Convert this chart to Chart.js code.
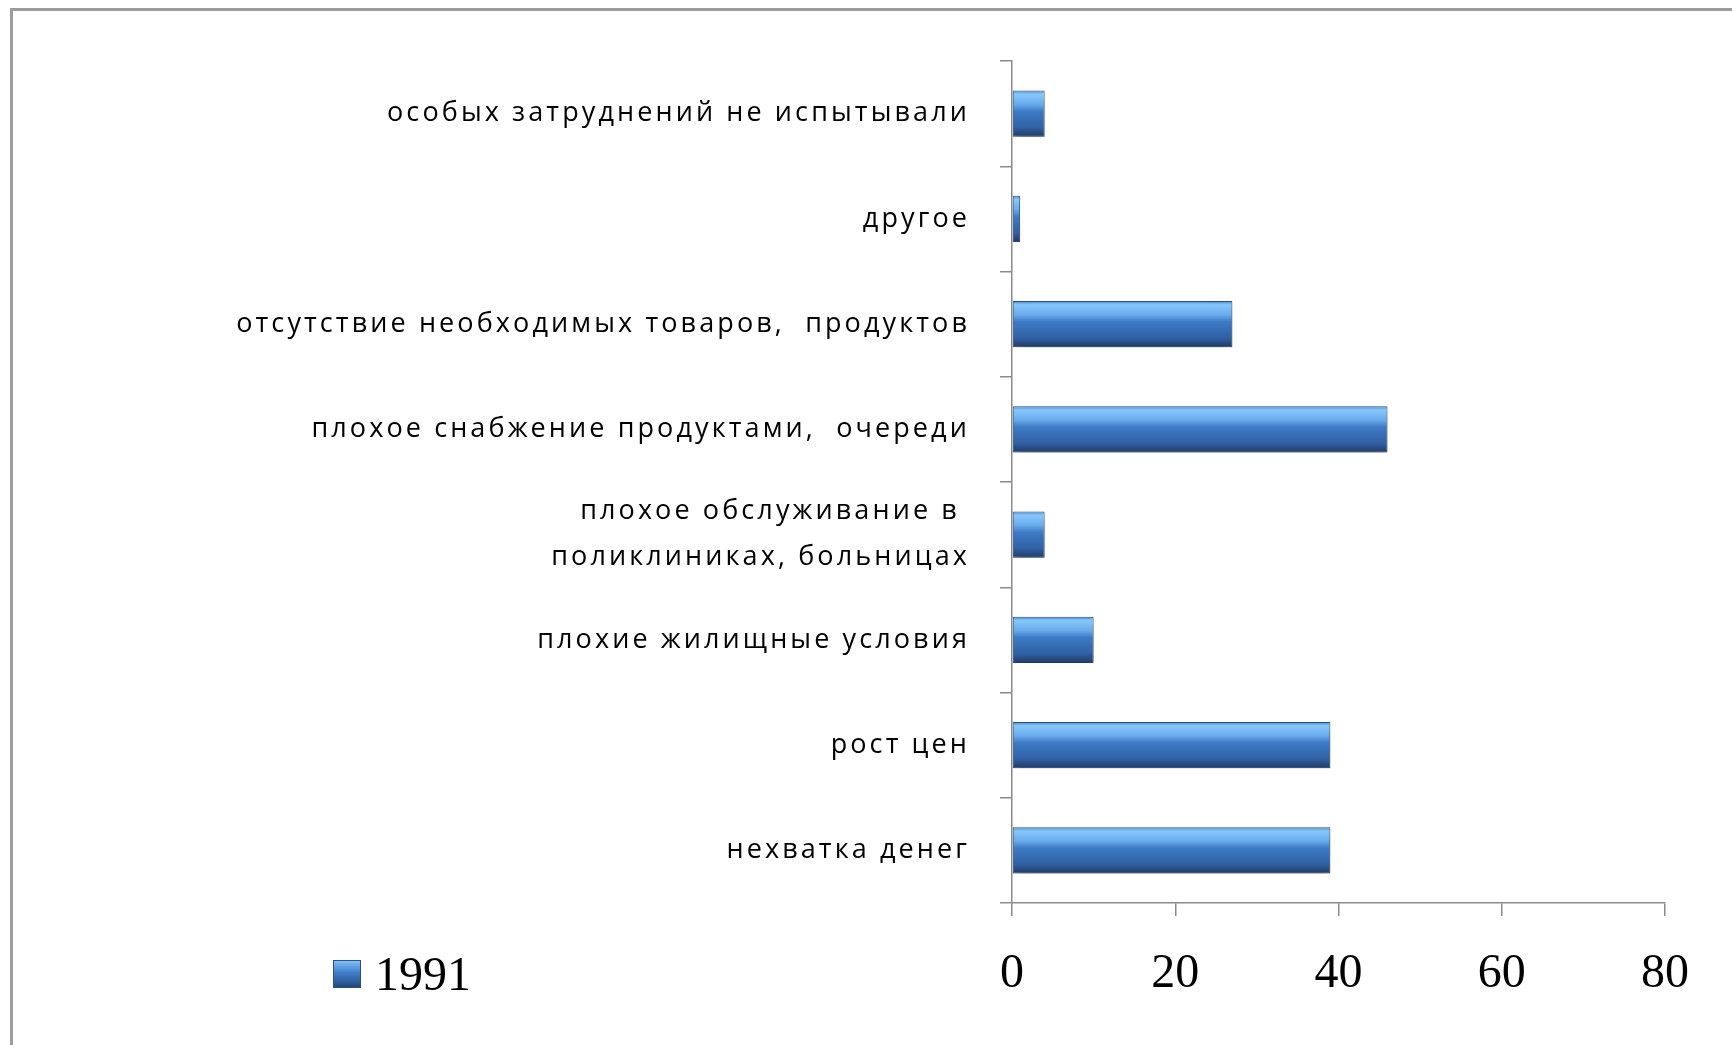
<!DOCTYPE html>
<html lang="ru">
<head>
<meta charset="utf-8">
<title>1991</title>
<script src="https://cdn.jsdelivr.net/npm/chart.js@4.4.1/dist/chart.umd.min.js"></script>
<style>
  html, body { margin: 0; padding: 0; background: #fff; }
  #wrap { position: relative; width: 1732px; height: 1045px; overflow: hidden; }
  #frame {
    position: absolute; left: 10px; top: 8px; width: 1760px; height: 1100px;
    border-top: 3px solid #9c9c9c; border-left: 3px solid #9c9c9c;
    box-sizing: border-box;
  }
  #chart { position: absolute; left: 0; top: 0; }
  #legend {
    position: absolute; left: 333px; top: 946px;
    font-family: "Liberation Serif", serif; font-size: 48px; color: #000;
    display: flex; align-items: center; line-height: 56px;
  }
  #legend .box {
    width: 28px; height: 28px; margin-right: 14px;
    background: linear-gradient(180deg, #7fc1f7 0%, #3f7dc8 45%, #2e5f9f 80%, #24467a 100%);
    border: 1px solid #2c4f80; box-sizing: border-box;
  }
</style>
</head>
<body>
<div id="wrap">
  <div id="frame"></div>
  <canvas id="chart" width="1732" height="1045"></canvas>
  <div id="legend"></div>
</div>
<script>
// categories, top to bottom as in the picture
const categories = [
  'особых затруднений не испытывали',
  'другое',
  'отсутствие необходимых товаров,  продуктов',
  'плохое снабжение продуктами,  очереди',
  ['плохое обслуживание в ', 'поликлиниках, больницах'],
  'плохие жилищные условия',
  'рост цен',
  'нехватка денег'
];
const values1991 = [4, 1, 27, 46, 4, 10, 39, 39];
const seriesLabel = '1991';
const xTicks = [0, 20, 40, 60, 80];

const BAR_PCT = 0.44;

function barFill(c) {
  const chart = c.chart;
  if (!chart.chartArea) return '#3a74c0';
  const yScale = chart.scales.y;
  const y = yScale.getPixelForValue(c.dataIndex);
  const h = yScale.height / categories.length * BAR_PCT;
  const g = chart.ctx.createLinearGradient(0, y - h / 2, 0, y + h / 2);
  g.addColorStop(0, '#4a86cc');
  g.addColorStop(0.08, '#86c8fb');
  g.addColorStop(0.3, '#68abec');
  g.addColorStop(0.45, '#3d7bc6');
  g.addColorStop(0.8, '#2f60a3');
  g.addColorStop(1, '#213a64');
  return g;
}

// soft shadow under bars
const barShadow = {
  id: 'barShadow',
  beforeDatasetsDraw(chart) {
    const ctx = chart.ctx;
    ctx.save();
    ctx.shadowColor = 'rgba(0,0,0,0.3)';
    ctx.shadowBlur = 10;
    ctx.shadowOffsetX = 2;
    ctx.shadowOffsetY = 7;
  },
  afterDatasetsDraw(chart) {
    chart.ctx.restore();
  }
};

// wider letter spacing on the category labels only
const spacedLabels = {
  id: 'spacedLabels',
  afterLayout(chart) {
    const s = chart.scales.y;
    if (s._spaced) return;
    const orig = s.drawLabels;
    s.drawLabels = function (area) {
      const ctx = this.ctx;
      ctx.save();
      ctx.letterSpacing = '3.1px';
      orig.call(this, area);
      ctx.restore();
    };
    s._spaced = true;
  }
};

const chart = new Chart(document.getElementById('chart'), {
  type: 'bar',
  data: {
    labels: categories,
    datasets: [{
      label: seriesLabel,
      data: values1991,
      backgroundColor: barFill,
      borderColor: '#2c4f80',
      borderWidth: 1,
      borderSkipped: false,
      barPercentage: BAR_PCT,
      categoryPercentage: 1
    }]
  },
  options: {
    indexAxis: 'y',
    responsive: false,
    animation: false,
    devicePixelRatio: 1,
    layout: { padding: { left: 0, right: 67, top: 61, bottom: 0 } },
    plugins: {
      legend: { display: false },
      tooltip: { enabled: false }
    },
    scales: {
      x: {
        min: 0, max: 80,
        afterFit: s => { s.height = 142; },
        afterBuildTicks: s => { s.ticks = xTicks.map(v => ({ value: v })); },
        grid: { drawOnChartArea: false, drawTicks: true, tickLength: 13, color: '#8a8a8a', lineWidth: 1.5 },
        border: { color: '#8a8a8a', width: 1.5 },
        ticks: {
          padding: 30,
          color: '#000',
          font: { family: 'Liberation Serif', size: 48 }
        }
      },
      y: {
        afterFit: s => { s.width = 1012; },
        grid: { drawOnChartArea: false, drawTicks: true, tickLength: 12, color: '#8a8a8a', lineWidth: 1.5, offset: true },
        border: { color: '#8a8a8a', width: 1.5 },
        ticks: {
          padding: 30,
          color: '#000',
          font: { family: 'Open Sans', size: 27, lineHeight: 1.7 }
        }
      }
    }
  },
  plugins: [barShadow, spacedLabels]
});

// legend
const legend = document.getElementById('legend');
legend.innerHTML = '<span class="box"></span><span>' + seriesLabel + '</span>';
</script>
</body>
</html>
